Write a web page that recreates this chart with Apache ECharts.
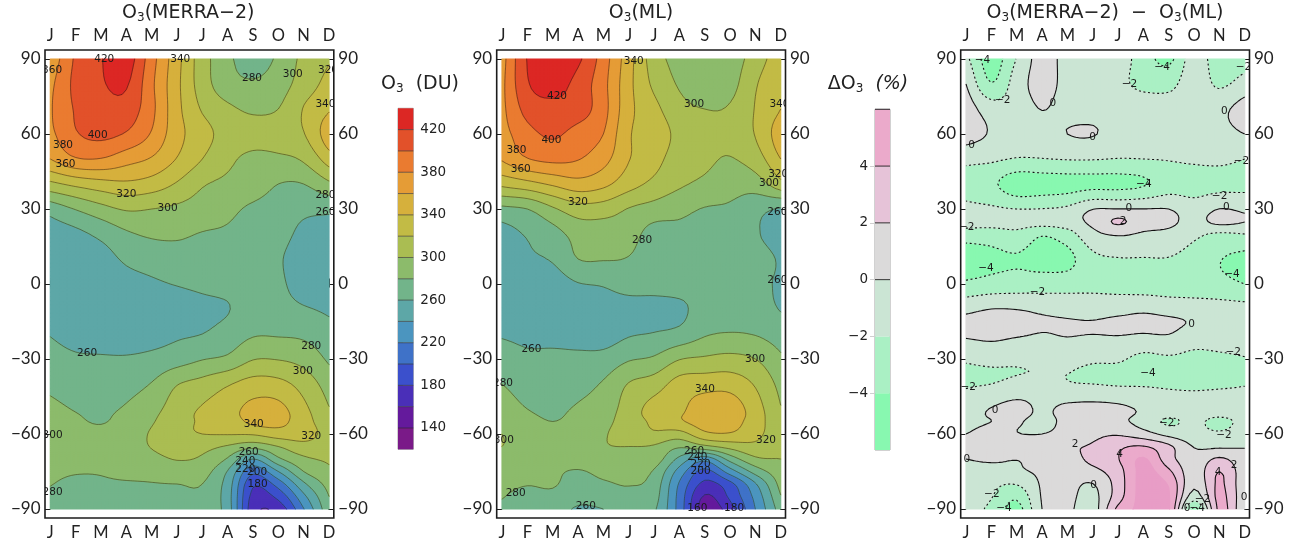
<!DOCTYPE html>
<html><head><meta charset="utf-8">
<style>html,body{margin:0;padding:0;background:#fff}#c{width:1309px;height:546px}</style>
<script src="https://cdn.jsdelivr.net/npm/echarts@6/dist/echarts.min.js"></script>
</head><body><div id="c"></div>
<script>
const monthLetters=['J','F','M','A','M','J','J','A','S','O','N','D'];
const months=[1,2,3,4,5,6,7,8,9,10,11,12];
const latTicks=[-90,-60,-30,0,30,60,90];
const ozoneLats=[90,80,70,60,50,40,30,20,10,0,-10,-20,-30,-40,-50,-55,-60,-65,-70,-75,-80,-85,-90];
const merraValues=[
[365,403,419,430,388,347,309,285,268,284,305,318],
[375,405,418,422,384,345,310,288,283,291,309,327],
[378,402,412,412,385,346,318,304,297,300,321,338],
[375,398,405,398,378,347,328,312,307,311,319,352],
[360,378,379,368,358,339,320,304,296,296,303,330],
[315,325,332,336,331,318,302,296,292,280,280,296],
[268,281,293,302,300,296,291,285,276,269,264,264],
[250,255,265,277,283,283,279,277,271,266,256,252],
[248,248,252,263,268,272,271,271,269,262,251,248],
[245,246,248,253,257,261,264,266,266,264,250,248],
[250,246,245,245,247,250,255,259,270,268,262,257],
[259,252,250,249,252,257,260,268,278,278,276,267],
[268,263,262,262,265,271,279,284,299,299,293,277],
[276,271,269,273,281,299,307,318,328,326,312,291],
[285,279,277,282,293,310,322,332,346,346,325,301],
[293,283,279,286,298,314,322,328,345,346,328,307],
[299,288,284,290,302,315,320,321,322,330,328,312],
[298,291,287,292,301,312,306,298,287,300,313,309],
[292,289,288,291,294,301,297,278,240,276,296,303],
[286,282,282,288,287,292,288,259,206,240,280,296],
[281,274,276,277,279,280,280,251,184,209,256,288],
[275,268,270,271,273,274,275,249,174,186,235,280],
[270,264,266,268,270,270,272,250,168,167,219,275]];
const mlValues=[
[372,421,438,424,390,348,310,293,288,289,310,332],
[375,418,428,413,386,346,316,298,290,293,318,337],
[375,407,414,410,387,346,326,306,300,302,321,340],
[372,393,403,392,380,342,333,314,306,306,321,352],
[362,379,385,381,367,341,327,310,304,299,310,340],
[325,333,343,352,345,328,315,303,296,289,290,313],
[275,280,297,311,310,299,292,285,279,277,266,258],
[252,262,272,287,288,288,272,275,274,273,262,252],
[250,257,262,280,281,279,270,272,272,271,267,258],
[248,248,250,259,262,270,268,270,268,270,264,258],
[250,248,248,247,248,250,252,255,270,272,268,259],
[258,255,252,251,250,258,261,266,278,281,279,271],
[270,264,266,265,267,278,283,299,303,306,300,283],
[280,273,272,274,282,301,310,328,332,332,318,294],
[288,280,277,282,290,309,328,336,351,352,329,301],
[294,285,280,285,294,310,324,337,349,349,329,305],
[300,290,285,290,298,310,317,312,335,338,325,308],
[300,295,288,293,299,300,298,283,295,307,315,305],
[295,293,288,292,295,294,291,255,228,268,296,300],
[290,288,284,278,286,287,278,232,194,230,268,293],
[285,281,282,271,277,281,272,218,175,194,238,287],
[281,274,275,265,269,275,268,213,158,184,226,279],
[276,268,268,258,260,270,263,212,148,172,220,270]];
const diffLats=[90,80,70,60,50,40,30,25,20,10,0,-10,-15,-20,-30,-35,-40,-50,-55,-60,-65,-70,-75,-80,-85,-90];
const diffValues=[
[-1.5,-5,-1.9,0.8,-0.7,-0.8,-1,-3,-4.5,-1,-3.2,-3],
[0,-3.9,-1,0.7,-0.6,-0.9,-1.5,-2.5,-2.6,-0.9,-2.3,-1.2],
[1,-1,-1,0.05,-0.7,-0.7,-0.8,-0.8,-1,-1,-0.5,0.8],
[1,-0.2,-1,-0.9,0,0.1,-0.7,-0.7,-0.8,-0.8,-0.6,0],
[-1.5,-1.7,-2.1,-2.05,-1.9,-1.9,-2.05,-2,-1.9,-1.7,-1.6,-2],
[-2.8,-3.6,-5.2,-5,-4.8,-4.6,-4.6,-4.2,-3,-2.9,-2.7,-2.6],
[-1.5,-1.7,-2,-1.95,-1.6,-0.05,0.02,0.02,0,-1,0.02,-0.3],
[-1.2,-1.1,-1,-0.9,-0.6,0.4,2.3,0.8,0.5,-0.7,0.6,0.05],
[-2.8,-2.9,-2.5,-3.8,-2.8,-0.5,0.2,-0.2,-0.5,-1.6,-2.2,-2],
[-5.5,-4.6,-4.2,-4.8,-4.6,-2.5,-2.1,-2.1,-2.1,-2.8,-3.9,-4.6],
[-3.6,-3.2,-3,-2.9,-2.8,-2.5,-2.7,-2.9,-3,-3,-3.4,-4],
[-0.5,0,-0.05,-0.4,-0.6,-0.8,-0.6,-0.35,-0.7,-1,-1.1,-1.2],
[0.4,0.5,0.5,0.2,0.1,0.05,0.3,0.4,0.3,-0.2,-1,-1],
[0.3,0.5,0.2,-0.05,0.1,0.02,0.1,-0.05,0.02,-0.9,-1,-1],
[-1.7,-1.4,-1.5,-1,-1,-1.6,-1.7,-2.6,-2.3,-2.6,-2.4,-2.1],
[-2.4,-2.2,-2.1,-1.9,-1.9,-2.6,-2.6,-2.9,-2.8,-2.9,-2.8,-2.6],
[-2.2,-2,-1.4,-0.8,-1.8,-2,-2.2,-2.2,-2.3,-2.4,-2.3,-2.1],
[-1,0.1,0.7,-0.3,0.5,0.7,0.5,-0.3,-1,-1,-1,-1],
[-0.5,0,0.2,-0.6,0.5,0.7,0.5,-0.8,-2.3,-1.5,-2.6,-1.2],
[0,0.5,0.05,0,0.7,1.5,1.8,0.8,-0.6,-1.3,-1.7,-1],
[0.7,0.9,1,1.2,1.8,2.2,3.6,4.1,2.4,-0.1,-0.3,-0.1],
[0,0.3,0.05,0.6,1.2,2.5,3.9,6.2,2.8,0.7,2.3,0.5],
[-0.7,-0.8,-0.3,0.3,0.8,1.4,3.2,6.6,4.4,0.8,4,0.5],
[-1,-1.6,-1.9,0.2,0.6,-0.05,2.9,6.8,5.8,0.4,4.3,0.3],
[-1.3,-1.9,-3.6,0.15,0.5,-0.6,3.1,6.8,6.2,-1,4.5,0.3],
[-1.3,-2.4,-4.8,0,0.4,-0.9,4.5,6.5,6.3,-4.5,4.5,0]];
// contour bands
const ozoneLevels=[120,140,160,180,200,220,240,260,280,300,320,340,360,380,400,420,440];
const ozoneColors=['#7a1a88','#641a9c','#4a2fb8','#3b50cc','#3f72c8','#4b95bf','#5da7a7','#72b48a','#8cbb6b','#aabd52','#c2bb45','#d6b03c','#e59c36','#ea7b30','#e2512a','#dc2724'];
const ozoneLineLevels=[140,160,180,200,220,240,260,280,300,320,340,360,380,400,420];
const ozoneTickLabels=[140,180,220,260,300,340,380,420];
const diffLevels=[-6,-4,-2,0,2,4,6];
const diffColors=['#88f8b0','#aaf0c4','#cbe5d4','#dbdada','#e6c3d8','#ebaacb'];
const diffTopColor='#e89dc6';
const diffSolidLevels=[0,2,4];
const diffDashedLevels=[-2,-4];
const diffTickLabels=[-4,-2,0,2,4];
const diffBarLines=[0,2,4,6];
// in-line contour labels: [month position, latitude, text]
const merraLabels=[[3.13,89.9,'420'],[6.13,90,'340'],[1.07,85.6,'360'],[8.96,82.3,'280'],[10.57,84,'300'],[11.96,85.6,'320'],[11.86,72,'340'],[2.87,59.6,'400'],[1.5,55.6,'380'],[1.6,48,'360'],[4,36,'320'],[5.63,30.3,'300'],[11.86,35.6,'280'],[11.86,28.7,'260'],[2.45,-27.7,'260'],[11.3,-24.8,'280'],[10.97,-34.8,'300'],[9.03,-56,'340'],[11.3,-60.8,'320'],[1.09,-60.4,'300'],[8.83,-67.5,'260'],[8.7,-70.8,'240'],[8.7,-74.1,'220'],[9.16,-75.5,'200'],[9.18,-80,'180'],[1.09,-83.5,'280']];
const mlLabels=[[6.2,89.2,'340'],[8.58,72,'300'],[11.95,72,'340'],[3.17,75.2,'420'],[2.95,57.6,'400'],[1.57,53.6,'380'],[1.74,46,'360'],[4,32.7,'320'],[11.9,44,'320'],[11.54,40.3,'300'],[6.53,17.3,'280'],[11.87,28.7,'260'],[11.87,1.6,'260'],[2.16,-26.1,'260'],[10.99,-30,'300'],[1.04,-39.7,'280'],[9.01,-42,'340'],[1.07,-62.4,'300'],[11.42,-62.4,'320'],[8.58,-66.8,'260'],[8.71,-69.3,'240'],[8.84,-72.3,'220'],[8.84,-75,'200'],[1.54,-83.7,'280'],[4.31,-89,'260'],[8.71,-89.6,'160'],[10.16,-89.6,'180']];
const diffLabels=[[1.65,89.3,'−4'],[2.45,73.5,'−2'],[4.43,72.1,'0'],[7.45,79.9,'−2'],[8.74,86.8,'−4'],[11.95,86.5,'−2'],[11.2,69,'0'],[1.22,55.3,'0'],[6,58.7,'0'],[11.87,49,'−2'],[8.02,40,'−4'],[11.01,34.9,'−2'],[7.43,30.1,'0'],[11.28,30.7,'0'],[7.2,25.2,'2'],[1.03,22.7,'−2'],[1.79,6.1,'−4'],[11.5,4,'−4'],[3.82,-3.3,'−2'],[9.9,-16,'0'],[11.55,-27.5,'−2'],[1.09,-41.3,'−2'],[8.18,-35.7,'−4'],[2.15,-50.4,'0'],[8.92,-55.7,'−2'],[11.18,-60.4,'−2'],[5.31,-64,'2'],[7.06,-68.1,'4'],[1.03,-70.1,'0'],[10.95,-75.2,'4'],[11.58,-72.6,'2'],[6.04,-80.4,'0'],[2.02,-84.2,'−2'],[10.33,-86.2,'−2'],[2.5,-89.7,'−4'],[9.73,-89.7,'0'],[10.13,-89.7,'−4'],[11.98,-85.3,'0']];

const FONT='Lato', NUMFONT='"DejaVu Sans"';
const SUB=6;
function cr(p0,p1,p2,p3,t){const t2=t*t,t3=t2*t;return 0.5*(2*p1+(p2-p0)*t+(2*p0-5*p1+4*p2-p3)*t2+(3*p1-p0-3*p2+p3)*t3);}
function sampleLine(arr){ // smooth a row of read values for contouring
  const n=arr.length,out=[];
  const g=i=>i<0?2*arr[0]-arr[1]:i>=n?2*arr[n-1]-arr[n-2]:arr[i];
  for(let i=0;i<n-1;i++){for(let k=0;k<SUB;k++)out.push(cr(g(i-1),g(i),g(i+1),g(i+2),k/SUB));}
  out.push(arr[n-1]);return out;
}
function fineField(matrix,lats){
  const rowsX=matrix.map(sampleLine);
  const cols=rowsX[0].length;
  const colS=[];
  for(let c=0;c<cols;c++)colS.push(sampleLine(rowsX.map(r=>r[c])));
  const latF=sampleLine(lats), monF=sampleLine(months);
  return {v:colS,latF,monF}; // v[c][r]
}
function clip(poly,L,keepAbove){
  const out=[];
  for(let i=0;i<poly.length;i++){
    const a=poly[i],b=poly[(i+1)%poly.length];
    const ina=keepAbove?a[2]>=L:a[2]<=L, inb=keepAbove?b[2]>=L:b[2]<=L;
    if(ina)out.push(a);
    if(ina!==inb){const t=(L-a[2])/(b[2]-a[2]);out.push([a[0]+(b[0]-a[0])*t,a[1]+(b[1]-a[1])*t,L]);}
  }
  return out;
}
function polyStr(p){let s='';for(let i=0;i<p.length;i++)s+=(i?'L':'M')+p[i][0].toFixed(2)+' '+p[i][1].toFixed(2);return s+'Z';}
function buildBands(px,f,bands){
  const out=bands.map(()=>[]);
  const nc=f.v.length,nr=f.v[0].length;
  for(let c=0;c<nc-1;c++)for(let r=0;r<nr-1;r++){
    const A=[px[c][r][0],px[c][r][1],f.v[c][r]],B=[px[c+1][r][0],px[c+1][r][1],f.v[c+1][r]],
          C=[px[c+1][r+1][0],px[c+1][r+1][1],f.v[c+1][r+1]],D=[px[c][r+1][0],px[c][r+1][1],f.v[c][r+1]];
    const mn=Math.min(A[2],B[2],C[2],D[2]),mx=Math.max(A[2],B[2],C[2],D[2]);
    bands.forEach((b,i)=>{
      if(mx<b[0]||mn>b[1])return;
      if(mn>=b[0]&&mx<=b[1]){out[i].push(polyStr([A,B,C,D]));return;}
      [[A,B,C],[A,C,D]].forEach(t=>{
        let p=clip(t,b[0],true);if(p.length<3)return;p=clip(p,b[1],false);if(p.length>=3)out[i].push(polyStr(p));
      });
    });
  }
  return out.map(a=>a.join(''));
}
function buildLine(px,f,L){
  const nc=f.v.length,nr=f.v[0].length,segs=[],map=new Map();
  const cross=(a,b)=>{ if((a[2]>=L)===(b[2]>=L))return null; const u=a[2]>=L?a:b,d=a[2]>=L?b:a;const t=(u[2]-L)/(u[2]-d[2]);return [u[0]+(d[0]-u[0])*t,u[1]+(d[1]-u[1])*t];};
  const key=p=>p[0].toFixed(3)+','+p[1].toFixed(3);
  const add=(k,i)=>{if(!map.has(k))map.set(k,[]);map.get(k).push(i);};
  for(let c=0;c<nc-1;c++)for(let r=0;r<nr-1;r++){
    const A=[px[c][r][0],px[c][r][1],f.v[c][r]],B=[px[c+1][r][0],px[c+1][r][1],f.v[c+1][r]],
          C=[px[c+1][r+1][0],px[c+1][r+1][1],f.v[c+1][r+1]],D=[px[c][r+1][0],px[c][r+1][1],f.v[c][r+1]];
    [[A,B,C],[A,C,D]].forEach(t=>{
      const pts=[cross(t[0],t[1]),cross(t[1],t[2]),cross(t[2],t[0])].filter(Boolean);
      if(pts.length===2){const i=segs.length;const k0=key(pts[0]),k1=key(pts[1]);segs.push({k0,k1,p0:pts[0],p1:pts[1],used:false});add(k0,i);add(k1,i);}
    });
  }
  const next=k=>{const l=map.get(k)||[];for(const i of l)if(!segs[i].used)return i;return -1;};
  let path='';
  const walk=(startSeg)=>{
    segs[startSeg].used=true;
    const pts=[segs[startSeg].p0,segs[startSeg].p1];let k=segs[startSeg].k1,n;
    while((n=next(k))>=0){const s=segs[n];s.used=true;if(s.k0===k){pts.push(s.p1);k=s.k1;}else{pts.push(s.p0);k=s.k0;}}
    k=segs[startSeg].k0;
    while((n=next(k))>=0){const s=segs[n];s.used=true;if(s.k0===k){pts.unshift(s.p1);k=s.k1;}else{pts.unshift(s.p0);k=s.k0;}}
    path+=pts.map((p,i)=>(i?'L':'M')+p[0].toFixed(2)+' '+p[1].toFixed(2)).join('');
  };
  segs.forEach((s,i)=>{if(!s.used)walk(i);});
  return path;
}
const ozoneBands=ozoneColors.map((c,i)=>({lo:i===0?0:ozoneLevels[i],hi:i===ozoneColors.length-1?9999:ozoneLevels[i+1],color:c}));
const diffBands=diffColors.map((c,i)=>({lo:i===0?-99:diffLevels[i],hi:diffLevels[i+1],color:c})).concat([{lo:6,hi:99,color:diffTopColor}]);
const ozoneLineStyle={stroke:'rgba(35,35,15,0.7)',lineWidth:0.7,fill:null};
const panels=[
 {title:'{a|O}{s|3}{a|(MERRA−2)}',cx:188.3,left:45,matrix:merraValues,lats:ozoneLats,bands:ozoneBands,labels:merraLabels,
  lines:ozoneLineLevels.map(l=>({level:l,style:ozoneLineStyle}))},
 {title:'{a|O}{s|3}{a|(ML)}',cx:641,left:496.7,matrix:mlValues,lats:ozoneLats,bands:ozoneBands,labels:mlLabels,
  lines:ozoneLineLevels.map(l=>({level:l,style:ozoneLineStyle}))},
 {title:'{a|O}{s|3}{a|(MERRA−2)  −  O}{s|3}{a|(ML)}',cx:1105,left:960.7,matrix:diffValues,lats:diffLats,bands:diffBands,labels:diffLabels,
  lines:diffSolidLevels.map(l=>({level:l,style:{stroke:'#111',lineWidth:1.1,fill:null}})).concat(diffDashedLevels.map(l=>({level:l,style:{stroke:'#111',lineWidth:1.1,fill:null,lineDash:[2,2.6]}})))}
];
panels.forEach(p=>{p.field=fineField(p.matrix,p.lats);});
function pixels(p,api){
  if(p.px)return p.px;
  const f=p.field;
  p.px=f.monF.map(m=>f.latF.map(l=>api.coord([m,l])));
  return p.px;
}
const TITLEFONT=NUMFONT;
const rich={a:{fontFamily:TITLEFONT,fontSize:19,fontWeight:'normal',color:'#222'},
  i:{fontFamily:TITLEFONT,fontSize:19,fontWeight:'normal',fontStyle:'italic',color:'#222'},
  s:{fontFamily:TITLEFONT,fontSize:12,fontWeight:'normal',color:'#222',padding:[9,0,0,0]}};
const W=288.8,H=468,TOP=50;
const XMIN=0.79,XMAX=12.19,YLIM=93.6;
const option={animation:false,title:[],grid:[],xAxis:[],yAxis:[],series:[],textStyle:{fontFamily:FONT}};
const fmtLat=v=>String(v).replace('-','−');
panels.forEach((p,i)=>{
  option.title.push({text:p.title,left:p.cx,top:3,padding:0,textAlign:'center',textStyle:{rich}});
  option.grid.push({left:p.left,top:TOP,width:W,height:H,show:true,backgroundColor:'#fff',borderColor:'#1c1c1c',borderWidth:1.6,containLabel:false});
  ['bottom','top'].forEach(pos=>{
    option.xAxis.push({type:'value',gridIndex:i,position:pos,min:XMIN,max:XMAX,
      axisLine:{show:false},splitLine:{show:false},
      axisTick:{show:true,inside:true,length:pos==='bottom'?5.5:3.5,customValues:months,lineStyle:{color:'#1c1c1c',width:1}},
      axisLabel:{show:true,margin:6,customValues:months,formatter:v=>monthLetters[Math.round(v)-1],fontFamily:FONT,fontSize:16.5,color:'#222'}});
  });
  ['left','right'].forEach(pos=>{
    option.yAxis.push({type:'value',gridIndex:i,position:pos,min:-YLIM,max:YLIM,
      axisLine:{show:false},splitLine:{show:false},
      axisTick:{show:true,inside:true,length:5.5,customValues:latTicks,lineStyle:{color:'#1c1c1c',width:1}},
      axisLabel:{show:true,margin:4.5,customValues:latTicks,formatter:fmtLat,fontFamily:FONT,fontSize:17,color:'#222'}});
  });
  const xi=i*2,yi=i*2;
  option.series.push({type:'custom',coordinateSystem:'cartesian2d',xAxisIndex:xi,yAxisIndex:yi,silent:true,clip:true,z:2,
    data:p.bands.map(b=>[b.lo,b.hi]),encode:{x:[],y:[]},
    renderItem:(params,api)=>{
      if(!p.bandPaths)p.bandPaths=buildBands(pixels(p,api),p.field,p.bands.map(b=>[b.lo,b.hi]));
      const s=p.bandPaths[params.dataIndex];
      if(!s)return null;
      const col=p.bands[params.dataIndex].color;
      return {type:'path',shape:{pathData:s},style:{fill:col,stroke:col,lineWidth:1.2,lineJoin:'round'},silent:true};
    }});
  option.series.push({type:'custom',coordinateSystem:'cartesian2d',xAxisIndex:xi,yAxisIndex:yi,silent:true,clip:true,z:3,
    data:p.lines.map(l=>[l.level]),encode:{x:[],y:[]},
    renderItem:(params,api)=>{
      const l=p.lines[params.dataIndex];
      const s=buildLine(pixels(p,api),p.field,l.level);
      if(!s)return null;
      return {type:'path',shape:{pathData:s},style:l.style,silent:true};
    }});
  option.series.push({type:'custom',coordinateSystem:'cartesian2d',xAxisIndex:xi,yAxisIndex:yi,silent:true,clip:true,z:4,
    data:p.labels,encode:{x:0,y:1},
    renderItem:(params,api)=>{
      const c=api.coord([api.value(0),api.value(1)]);
      return {type:'text',x:c[0],y:c[1],style:{text:p.labels[params.dataIndex][2],fill:'#1a1a1a',font:'10.5px '+NUMFONT,textAlign:'center',textVerticalAlign:'middle'},silent:true};
    }});
});
// colour bars
function addBar(gIdx,left,top,width,height,levels,colors,pos,ticks,lineLevels,lineCol){
  option.grid.push({left,top,width,height,show:true,backgroundColor:'transparent',borderColor:'rgba(90,90,90,0.55)',borderWidth:1});
  const xi=option.xAxis.length,yi=option.yAxis.length;
  option.xAxis.push({type:'value',gridIndex:gIdx,min:0,max:1,show:false});
  option.yAxis.push({type:'value',gridIndex:gIdx,position:pos,min:levels[0],max:levels[levels.length-1],
    axisLine:{show:false},splitLine:{show:false},
    axisTick:{show:true,length:5,customValues:ticks,lineStyle:{color:'#cfcfcf',width:1}},
    axisLabel:{show:true,margin:7,customValues:ticks,formatter:fmtLat,fontFamily:NUMFONT,fontSize:13.5,color:'#222'}});
  option.series.push({type:'custom',coordinateSystem:'cartesian2d',xAxisIndex:xi,yAxisIndex:yi,silent:true,z:2,
    data:colors.map((c,i)=>[levels[i],levels[i+1]]),encode:{x:[],y:[0,1]},
    renderItem:(params,api)=>{
      const a=api.coord([0,api.value(1)]),b=api.coord([1,api.value(0)]);
      return {type:'rect',shape:{x:a[0],y:a[1],width:b[0]-a[0],height:b[1]-a[1]},style:{fill:colors[params.dataIndex]},silent:true};
    }});
  option.series.push({type:'custom',coordinateSystem:'cartesian2d',xAxisIndex:xi,yAxisIndex:yi,silent:true,z:3,
    data:lineLevels.map(l=>[l]),encode:{x:[],y:0},clip:false,
    renderItem:(params,api)=>{
      const a=api.coord([0,api.value(0)]),b=api.coord([1,api.value(0)]);
      return {type:'line',shape:{x1:a[0],y1:a[1],x2:b[0],y2:b[1]},style:{stroke:lineCol,lineWidth:1},silent:true};
    }});
}
addBar(3,398,108.3,15.3,341,ozoneLevels,ozoneColors,'right',ozoneTickLabels,ozoneLevels.slice(1,-1),'rgba(40,40,40,0.6)');
addBar(4,875,109.3,15,340.7,diffLevels,diffColors,'left',diffTickLabels,diffBarLines,'rgba(20,20,20,0.85)');
option.title.push({text:'{a|O}{s|3}{a|  (DU)}',left:420,top:74,padding:0,textAlign:'center',textStyle:{rich}});
option.title.push({text:'{a|ΔO}{s|3}{a|  }{i|(%)}',left:868,top:74,padding:0,textAlign:'center',textStyle:{rich}});
const chart=echarts.init(document.getElementById('c'),null,{renderer:'canvas'});
chart.setOption(option);
</script></body></html>
